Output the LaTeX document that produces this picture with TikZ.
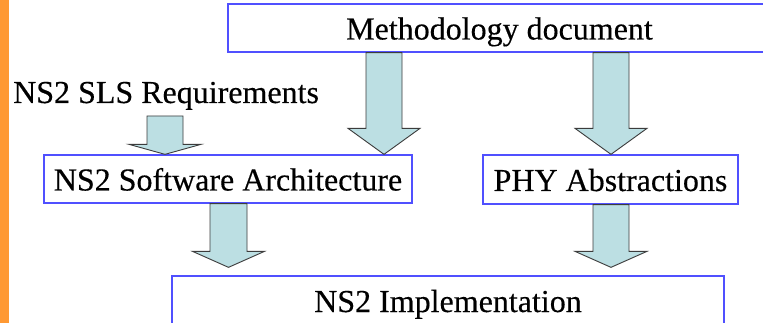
\documentclass[tikz,border=0pt]{standalone}
\usepackage{fontspec}
\setmainfont{Liberation Serif}
\newfontfamily\diagfont[FakeBold=0.35]{Liberation Serif}
\usetikzlibrary{calc}
\definecolor{barorange}{RGB}{255,153,51}
\definecolor{boxblue}{RGB}{80,80,255}
\definecolor{arrowfill}{RGB}{188,223,227}
\definecolor{arrowline}{RGB}{60,60,60}
\tikzset{
  lbl/.style={inner sep=0pt, font=\diagfont\fontsize{32pt}{38pt}\selectfont},
  boxnode/.style={lbl, draw=boxblue, line width=1.3pt, text height=30pt, text depth=7pt, align=center},
  barrow/.style={draw=arrowline, fill=arrowfill, line width=0.9pt, line join=miter}
}
\newcommand\blockarrow[5]{%
  \draw[barrow] ($(#1)+(-#3,0)$) -- ($(#2)+(-#3,-#5)$) -- ($(#2)+(-#4,-#5)$) -- (#2)
    -- ($(#2)+(#4,-#5)$) -- ($(#2)+(#3,-#5)$) -- ($(#1)+(#3,0)$) -- cycle;}
\begin{document}
\begin{tikzpicture}[x=1pt,y=-1pt]
\clip (0,0) rectangle (763,323);
\fill[white] (0,0) rectangle (763,323);
\fill[barorange] (0,0) rectangle (9,323);
% boxes
\node[boxnode, minimum width=543pt, minimum height=48pt] (meth) at (499.5,28) {Methodology document};
\node[boxnode, minimum width=368pt, minimum height=48pt] (sw) at (228,179) {NS2 Software Architecture};
\node[boxnode, minimum width=255pt, minimum height=49pt] (phy) at (610.5,179.5) {PHY Abstractions};
\node[boxnode, minimum width=552pt, minimum height=49pt] (impl) at (448,300.5) {NS2 Implementation};
\node[lbl, anchor=base west] (sls) at (13,103) {NS2 SLS Requirements};
% arrow end points
\coordinate (a1s) at ($(sls.base -| 165,0)+(0,13)$);
\coordinate (a1t) at (sw.north -| 165,0);
\coordinate (a2s) at (meth.south -| 384,0);
\coordinate (a2t) at (sw.north -| 384,0);
\coordinate (a3s) at (meth.south -| 611,0);
\coordinate (a3t) at (phy.north -| 611,0);
\coordinate (a4s) at (sw.south -| 228.5,0);
\coordinate (a4t) at ($(impl.north -| 228.5,0)+(0,-8)$);
\coordinate (a5s) at (phy.south -| 611,0);
\coordinate (a5t) at ($(impl.north -| 611,0)+(0,-8)$);
% block arrows
\blockarrow{a1s}{a1t}{18}{36}{10}
\blockarrow{a2s}{a2t}{18}{36}{26}
\blockarrow{a3s}{a3t}{18}{36}{26}
\blockarrow{a4s}{a4t}{18.5}{36}{16}
\blockarrow{a5s}{a5t}{18}{36}{16}
\end{tikzpicture}
\end{document}
